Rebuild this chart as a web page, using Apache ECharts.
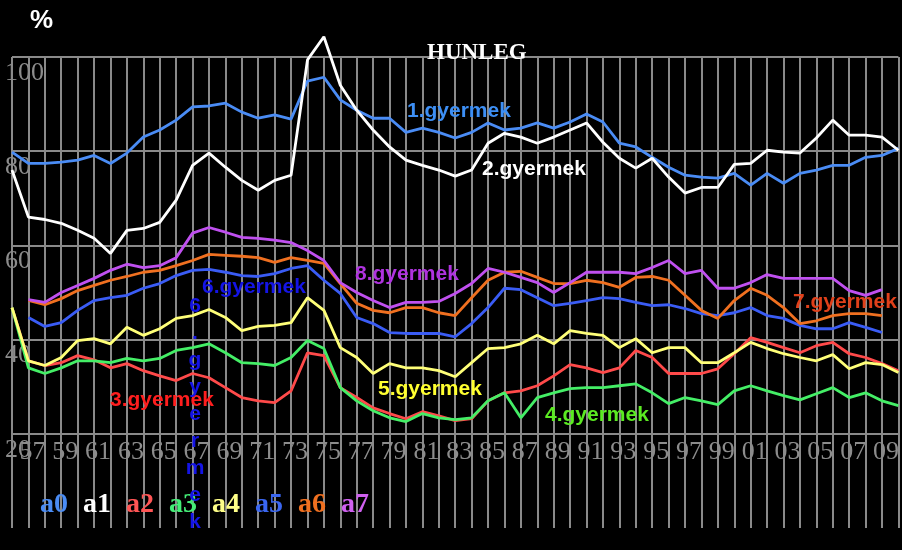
<!DOCTYPE html>
<html>
<head>
<meta charset="utf-8">
<script src="https://cdn.jsdelivr.net/npm/echarts@6/dist/echarts.min.js"></script>
<style>
html,body{margin:0;padding:0;background:#000;}
#chart{width:902px;height:550px;}
</style>
</head>
<body>
<div id="chart"></div>
<script>
// x categories: 1956 .. 2010 (two-digit year labels)
const years = ['56','57','58','59','60','61','62','63','64','65','66','67','68','69','70','71','72','73','74','75','76','77','78','79','80','81','82','83','84','85','86','87','88','89','90','91','92','93','94','95','96','97','98','99','00','01','02','03','04','05','06','07','08','09','10'];
const seriesNames = ['a0','a1','a2','a3','a4','a5','a6','a7'];
const yTicks = [0, 20, 40, 60, 80, 100];

const a0 = [79.8,77.4,77.4,77.7,78.1,79.1,77.4,79.6,83.0,84.5,86.6,89.4,89.6,90.2,88.3,87.0,87.7,86.8,
  94.9,95.7,90.9,88.7,87.0,87.0,84.0,84.9,84.0,82.8,84.0,86.0,84.5,84.9,86.0,84.9,86.2,87.9,
  86.2,81.7,80.9,78.7,76.6,74.9,74.5,74.3,75.3,72.8,75.3,73.2,75.3,76.0,77.0,77.0,78.7,79.1,80.6];
const a1 = [76.0,66.0,65.5,64.7,63.2,61.5,58.3,63.2,63.6,64.9,69.6,77.0,79.6,76.6,73.8,71.7,73.8,74.9,
  99.4,104.3,94.0,88.7,84.5,80.9,78.1,77.0,76.0,74.7,76.0,81.7,83.8,83.0,81.7,83.0,84.5,86.0,
  81.9,78.5,76.4,78.5,74.5,71.1,72.3,72.3,77.2,77.4,80.2,79.8,79.6,82.8,86.6,83.4,83.4,83.0,80.2];
const a2 = [46.8,35.5,34.5,35.1,36.6,35.7,34.0,34.9,33.4,32.3,31.3,32.8,31.9,29.8,27.7,27.0,26.6,29.1,
  37.2,36.6,29.8,27.7,25.5,24.3,23.2,24.7,23.8,22.8,23.2,27.0,28.7,29.1,30.2,32.3,34.7,34.0,
  33.0,34.0,37.7,36.2,32.8,32.8,32.8,33.8,37.0,40.4,39.4,38.3,37.2,38.7,39.4,37.0,36.2,34.9,33.4];
const a3 = [46.8,34.0,32.8,34.0,35.5,35.5,35.1,36.0,35.5,36.0,37.7,38.3,39.1,37.2,35.1,34.9,34.5,36.2,
  39.8,38.1,29.8,27.0,24.9,23.4,22.6,24.3,23.4,23.0,23.4,27.0,28.7,23.4,27.7,28.7,29.6,29.8,
  29.8,30.2,30.6,28.7,26.4,27.7,27.0,26.2,29.1,30.2,29.1,28.1,27.2,28.5,29.8,27.7,28.7,27.0,26.0];
const a4 = [46.8,35.5,34.5,36.2,39.8,40.2,39.1,42.6,40.9,42.3,44.5,45.1,46.4,44.7,41.9,42.8,43.0,43.6,
  48.9,46.2,38.3,36.2,32.8,34.9,34.0,34.0,33.4,32.1,35.1,38.1,38.3,39.1,40.9,39.1,41.9,41.3,
  40.9,38.3,40.2,37.2,38.3,38.3,35.1,35.1,37.2,39.4,38.1,37.0,36.2,35.5,36.8,33.8,35.1,34.7,33.0];
const a5 = [null,44.7,42.8,43.6,46.2,48.3,48.9,49.4,50.9,51.9,53.6,54.7,54.9,54.3,53.6,53.4,54.0,55.1,
  55.7,52.6,49.8,44.7,43.4,41.5,41.3,41.3,41.3,40.6,43.4,46.8,50.9,50.6,48.9,47.2,47.7,48.3,
  48.9,48.7,47.9,47.2,47.4,46.6,45.5,45.1,45.7,46.8,45.1,44.5,43.0,42.3,42.3,43.6,42.6,41.5,null];
const a6 = [null,48.3,47.4,48.7,50.4,51.5,52.6,53.4,54.3,54.7,55.7,56.8,58.1,57.9,57.7,57.4,56.4,57.4,
  56.8,56.2,51.9,47.7,46.2,45.7,46.8,46.8,45.7,45.1,48.9,52.6,54.3,54.5,53.2,51.9,51.9,52.6,
  52.1,51.1,53.2,53.4,52.6,49.4,46.2,44.5,48.3,50.9,49.4,46.8,43.4,44.0,45.1,45.5,45.5,45.1,null];
const a7 = [null,48.5,47.9,50.0,51.5,53.0,54.7,56.0,55.3,55.7,57.4,62.6,63.8,62.8,61.7,61.5,61.1,60.6,
  58.9,56.8,52.1,50.0,48.3,46.8,47.9,47.9,48.1,49.8,51.9,55.1,54.3,53.2,52.1,50.0,52.1,54.3,
  54.3,54.3,54.0,55.3,56.8,54.0,54.7,50.9,50.9,52.1,53.8,53.0,53.0,53.0,53.0,50.4,49.4,50.6,null];

const seriesData = [a0, a1, a2, a3, a4, a5, a6, a7];
const lineColors = ['#4a8cf5','#ffffff','#ff4a4a','#44ee66','#ffff78','#3a5cf5','#f07020','#c050f0'];
const legendColors = ['#4a8cf5','#ffffff','#ff5555','#44ee77','#ffff88','#3a66f0','#f07020','#d060f0'];

const annotations = [
  {text:'1.gyermek', x:407, y:111, color:'#3d8ff5'},
  {text:'2.gyermek', x:482, y:169, color:'#ffffff'},
  {text:'3.gyermek', x:110, y:400, color:'#ff1e1e'},
  {text:'4.gyermek', x:545, y:415, color:'#5bea22'},
  {text:'5.gyermek', x:378, y:389, color:'#ffff30'},
  {text:'6.gyermek', x:202, y:287, color:'#1414e6'},
  {text:'7.gyermek', x:793, y:302, color:'#e0401a'},
  {text:'8.gyermek', x:355, y:274, color:'#b033e0'}
];

const chart = echarts.init(document.getElementById('chart'));
const gridColor = '#8a8a8a';

const graphics = annotations.map(a => ({
  type:'text', x:a.x, y:a.y, z:100,
  style:{text:a.text, fill:a.color, font:'bold 21px "Liberation Sans", Arial, sans-serif', verticalAlign:'middle'}
}));
graphics.push({
  type:'text', x:195, y:293, z:100,
  style:{text:'6.gyermek'.split('').join('\n'), fill:'#1414e6', font:'bold 21px "Liberation Sans", Arial, sans-serif', align:'center', verticalAlign:'top', lineHeight:27}
});
graphics.push({
  type:'text', x:30, y:8, z:100,
  style:{text:'%', fill:'#ffffff', font:'bold 26px "Liberation Sans", Arial, sans-serif'}
});

chart.setOption({
  backgroundColor:'#000000',
  animation:false,
  title:{
    text:'HUNLEG', left:427, top:42, padding:0,
    textStyle:{color:'#ffffff', fontFamily:'"Liberation Serif", serif', fontWeight:'bold', fontSize:23}
  },
  legend:{
    left:30, top:486, icon:'none', itemWidth:0, itemGap:10,
    data: seriesNames.map((n,i)=>({name:n, textStyle:{color:legendColors[i]}})),
    textStyle:{fontFamily:'"Liberation Serif", serif', fontWeight:'bold', fontSize:28}
  },
  grid:{left:12, right:-6.4, top:57, bottom:22, containLabel:false},
  xAxis:{
    type:'category', data:years, boundaryGap:false,
    axisLine:{show:false}, axisTick:{show:false},
    splitLine:{show:true, interval:0, lineStyle:{color:gridColor, width:2}},
    axisLabel:{
      interval:0, inside:true, margin:76, verticalAlign:'middle', padding:[0,0,0,8],
      color:'#8c8c8c', fontFamily:'"Liberation Serif", serif', fontSize:26,
      formatter:(v,i)=> (i % 2 === 1 ? v : '')
    }
  },
  yAxis:{
    type:'value', min:0, max:100, interval:20,
    axisLine:{show:false}, axisTick:{show:false},
    splitLine:{show:true, showMinLine:false, lineStyle:{color:gridColor, width:2}},
    axisLabel:{
      align:'left', margin:7, verticalAlign:'top', padding:[3,0,0,0],
      color:'#8c8c8c', fontFamily:'"Liberation Serif", serif', fontSize:26,
      formatter:(v)=> (v === 0 ? '' : String(v))
    }
  },
  graphic:graphics,
  series: seriesNames.map((n,i)=>({
    name:n, type:'line', data:seriesData[i], symbol:'none', clip:false,
    connectNulls:false,
    itemStyle:{color:lineColors[i]},
    lineStyle:{color:lineColors[i], width:2.8}
  }))
});
</script>
</body>
</html>
